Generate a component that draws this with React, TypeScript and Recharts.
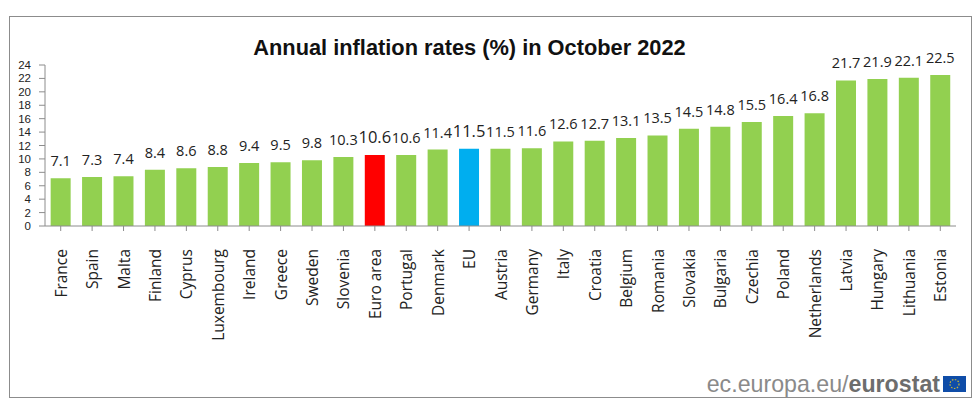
import { Bar, BarChart, Cell, LabelList, XAxis, YAxis } from "recharts";

const countries = ["France", "Spain", "Malta", "Finland", "Cyprus", "Luxembourg", "Ireland", "Greece", "Sweden", "Slovenia", "Euro area", "Portugal", "Denmark", "EU", "Austria", "Germany", "Italy", "Croatia", "Belgium", "Romania", "Slovakia", "Bulgaria", "Czechia", "Poland", "Netherlands", "Latvia", "Hungary", "Lithuania", "Estonia"];
const rates = [7.1, 7.3, 7.4, 8.4, 8.6, 8.8, 9.4, 9.5, 9.8, 10.3, 10.6, 10.6, 11.4, 11.5, 11.5, 11.6, 12.6, 12.7, 13.1, 13.5, 14.5, 14.8, 15.5, 16.4, 16.8, 21.7, 21.9, 22.1, 22.5];
const yTicks = [0, 2, 4, 6, 8, 10, 12, 14, 16, 18, 20, 22, 24];

const chartData = countries.map((country, i) => ({ country, rate: rates[i] }));

const barColor = (country: string) => {
	if (country === "Euro area") return "#ff0000";
	if (country === "EU") return "#00aeef";
	return "#92d050";
};

function CountryTick({ x, y, payload }: any) {
	return (
		<text
			transform={`translate(${x + 6},${y + 16}) rotate(-90)`}
			textAnchor="end"
			fontSize={15.5}
			fill="#222"
			fontFamily="'Open Sans', sans-serif"
		>
			{payload.value}
		</text>
	);
}

// the two aggregates get a slightly larger label
function RateLabel({ x, y, width, value, index }: any) {
	const name = countries[index];
	const big = name === "Euro area" || name === "EU";
	return (
		<text
			x={x + width / 2}
			y={y - 12}
			textAnchor="middle"
			fontSize={big ? 16.5 : 14.5}
			fill="#222"
			fontFamily="'Open Sans', sans-serif"
		>
			{Number(value).toFixed(1)}
		</text>
	);
}

export default function App() {
	return (
		<div style={{ position: "absolute", left: 0, top: 0, width: 980, height: 409, background: "#fff", overflow: "hidden" }}>
			<div style={{ position: "absolute", left: 9, top: 16, width: 961, height: 380, border: "1px solid #8c8c8c" }} />
			<div
				style={{
					position: "absolute",
					left: 9,
					top: 35,
					width: 921,
					textAlign: "center",
					fontFamily: "'Liberation Sans', sans-serif",
					fontWeight: "bold",
					fontSize: 21.8,
					lineHeight: "26px",
					color: "#111",
				}}
			>
				Annual inflation rates (%) in October 2022
			</div>
			<div style={{ position: "absolute", left: 0, top: 0 }}>
				<BarChart
					width={980}
					height={409}
					data={chartData}
					barCategoryGap="18%"
					margin={{ top: 65, right: 24, bottom: 133, left: 5 }}
				>
					<XAxis
						dataKey="country"
						interval={0}
						height={50}
						tick={<CountryTick />}
						tickLine={{ stroke: "#8c8c8c" }}
						axisLine={{ stroke: "#8c8c8c" }}
						tickSize={5}
					/>
					<YAxis
						width={40}
						domain={[0, 24]}
						ticks={yTicks}
						interval={0}
						tick={{ fill: "#222", fontSize: 11.5, fontFamily: "'Liberation Sans', sans-serif" }}
						tickLine={{ stroke: "#8c8c8c" }}
						axisLine={{ stroke: "#8c8c8c" }}
						tickSize={6}
						tickMargin={8}
					/>
					<Bar dataKey="rate" isAnimationActive={false}>
						{chartData.map((d) => (
							<Cell key={d.country} fill={barColor(d.country)} />
						))}
						<LabelList dataKey="rate" content={<RateLabel />} />
					</Bar>
				</BarChart>
			</div>
			<div
				style={{
					position: "absolute",
					right: 40,
					top: 371,
					fontFamily: "'Liberation Sans', sans-serif",
					fontSize: 23.2,
					lineHeight: "27px",
					color: "#8a8a8a",
					whiteSpace: "nowrap",
				}}
			>
				ec.europa.eu/<b style={{ color: "#6d6d6d" }}>eurostat</b>
			</div>
			<svg style={{ position: "absolute", left: 943, top: 376 }} width={23} height={16}>
				<rect width={23} height={16} fill="#0f4da8" />
				<circle cx={11.5} cy={8} r={4.5} fill="none" stroke="#c9b73a" strokeWidth={1.2} strokeDasharray="1.5 1.5" />
			</svg>
		</div>
	);
}
